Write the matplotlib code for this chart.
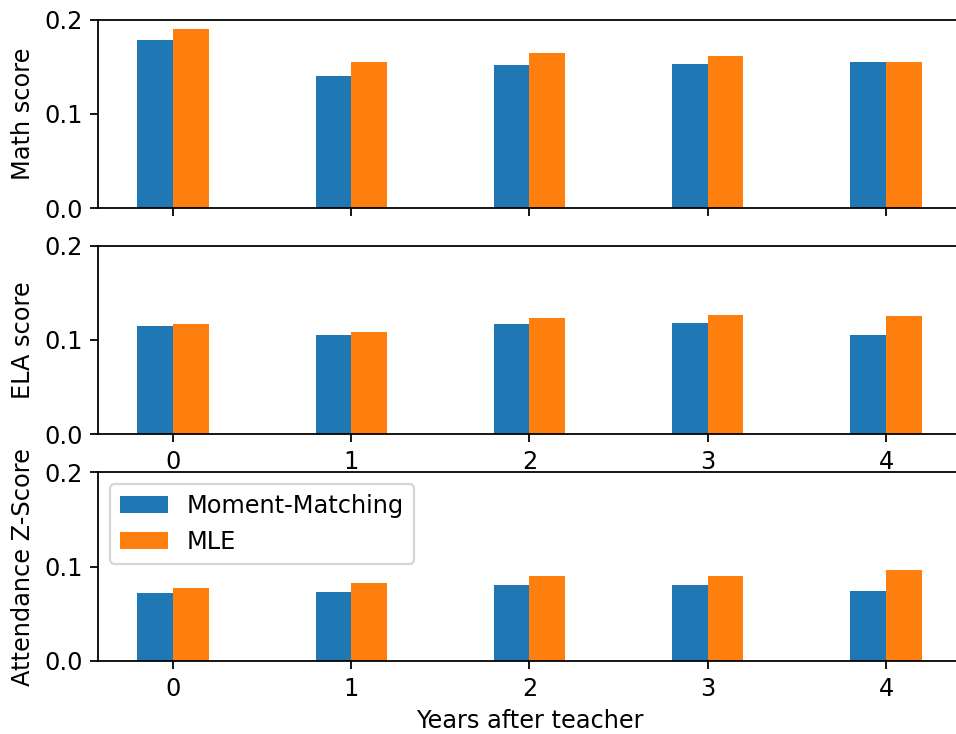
import matplotlib
matplotlib.use('Agg')
import matplotlib.pyplot as plt
import numpy as np

# Effect sizes by years after the teacher, two estimators
years = [0, 1, 2, 3, 4]
math_mm = [0.178, 0.1397, 0.1514, 0.1524, 0.1545]
math_mle = [0.1896, 0.1545, 0.165, 0.161, 0.1545]
ela_mm = [0.1148, 0.1053, 0.117, 0.118, 0.1053]
ela_mle = [0.117, 0.1085, 0.1235, 0.1266, 0.1256]
att_mm = [0.0723, 0.0734, 0.0809, 0.081, 0.0745]
att_mle = [0.0777, 0.083, 0.0904, 0.0904, 0.0968]

panels = [
    ('Math score', math_mm, math_mle),
    ('ELA score', ela_mm, ela_mle),
    ('Attendance Z-Score', att_mm, att_mle),
]

plt.rcParams['font.size'] = 10.8

fig = plt.figure(figsize=(956 / 160, 734 / 160), dpi=160)
left, width, height = 0.1025, 0.9027, 0.2568
bottoms = [0.7166, 0.4087, 0.0995]

x = np.array(years)
w = 0.2
axes = []
for (label, mm, mle), b in zip(panels, bottoms):
    ax = fig.add_axes([left, b, width, height])
    ax.bar(x - w / 2, mm, w, label='Moment-Matching')
    ax.bar(x + w / 2, mle, w, label='MLE')
    ax.set_xlim(-0.42, 4.42)
    ax.set_ylim(0, 0.2)
    ax.set_yticks([0.0, 0.1, 0.2])
    ax.set_xticks(years)
    ax.set_ylabel(label)
    ax.spines['right'].set_visible(False)
    axes.append(ax)

axes[0].set_xticklabels([])
axes[2].legend(loc='upper left')
axes[2].set_xlabel('Years after teacher')

fig.savefig('out.png', dpi=160)
